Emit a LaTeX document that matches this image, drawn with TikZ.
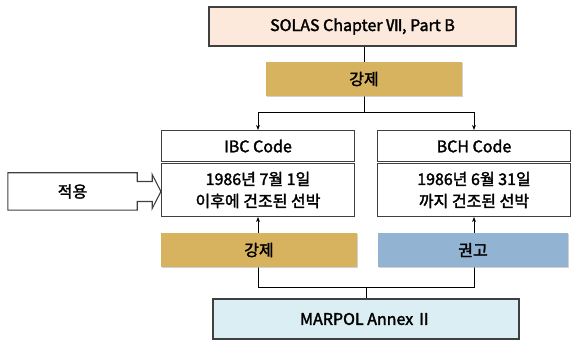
\documentclass[tikz,border=0pt]{standalone}
\usepackage{fontspec}
\setmainfont{Noto Sans CJK KR}[FakeBold=2]
\usetikzlibrary{positioning,calc,arrows.meta,shadows,backgrounds}
\definecolor{peach}{HTML}{FCE9DC}
\definecolor{gold}{HTML}{D7B35F}
\definecolor{steel}{HTML}{93B3D2}
\definecolor{ice}{HTML}{DBEEF3}
\tikzset{
  x=1pt, y=-1pt,
   box/.style = {%
    shape=rectangle,
    draw=black!75,
    line width=1.1pt,
    fill=white,
    align=center,
    inner sep=0pt,
    font=\fontsize{16}{22}\selectfont},
   tag/.style = {%
    shape=rectangle,
    fill=#1,
    align=center,
    inner sep=0pt,
    minimum height=34pt,
    drop shadow={shadow xshift=1pt, shadow yshift=-1.5pt, fill=black!30, opacity=0.6},
    font=\fontsize{16}{16}\selectfont},
 arrow/.style = {%
    draw=black,
    line width=0.8pt,
    -{Stealth[length=5pt,width=4pt]}},
  link/.style = {draw=black, line width=0.8pt},
}
\begin{document}
\begin{tikzpicture}
  \useasboundingbox (0,0) rectangle (571,342);
  % top
  \node[box, fill=peach, minimum width=307pt, minimum height=39pt] (solas) at (362.5,26.5) {SOLAS Chapter Ⅶ, Part B};
  \node[tag=gold, minimum width=196pt] (force top) at (364,79) {강제};
  % left column
  \node[box, minimum width=193pt, minimum height=31pt] (ibc) at (258,146) {IBC Code};
  \node[box, minimum width=193pt, minimum height=53pt] (ibc date) at (258,190) {1986년 7월 1일\\이후에 건조된 선박};
  \node[tag=gold, minimum width=196pt] (force low) at (259,250) {강제};
  % right column
  \node[box, minimum width=193pt, minimum height=31pt] (bch) at (474,146) {BCH Code};
  \node[box, minimum width=193pt, minimum height=53pt] (bch date) at (474,190) {1986년 6월 31일\\까지 건조된 선박};
  \node[tag=steel, minimum width=190pt] (advise) at (473,250) {권고};
  % bottom
  \node[box, fill=ice, minimum width=306pt, minimum height=40pt] (marpol) at (366,319) {MARPOL Annex\,Ⅱ};
  % side
  \node[minimum width=129pt, minimum height=37pt, inner sep=0pt, font=\fontsize{16}{16}\selectfont] (apply) at (72.5,191.5) {적용};
  \draw[draw=black!75, line width=1.1pt]
    (apply.north west) -- (apply.north east) -- ($(apply.east)+(0,-10)$) -- ++(15,0) -- ++(0,-7)
    -- (ibc date.west |- apply.east) -- ($(apply.east)+(15,17)$) -- ++(0,-7) -- ($(apply.east)+(0,10)$)
    -- (apply.south east) -- (apply.south west) -- cycle;

  \coordinate (fork) at (364,112);
  \coordinate (join) at (366,287);
  \begin{scope}[on background layer]
    \draw[link] (solas.south -| force top) -- (force top.north);
    \draw[link] (force top.south) -- (fork);
    \draw[arrow] (fork) -| (ibc.north);
    \draw[arrow] (fork) -| (bch.north);
    \draw[link] (marpol.north -| join) -- (join);
    \draw[link] (join) -| (force low.south -| ibc date.south);
    \draw[link] (join) -| (advise.south -| bch date.south);
    \draw[arrow] (force low.north -| ibc date.south) -- (ibc date.south);
    \draw[arrow] (advise.north -| bch date.south) -- (bch date.south);
  \end{scope}
\end{tikzpicture}
\end{document}
